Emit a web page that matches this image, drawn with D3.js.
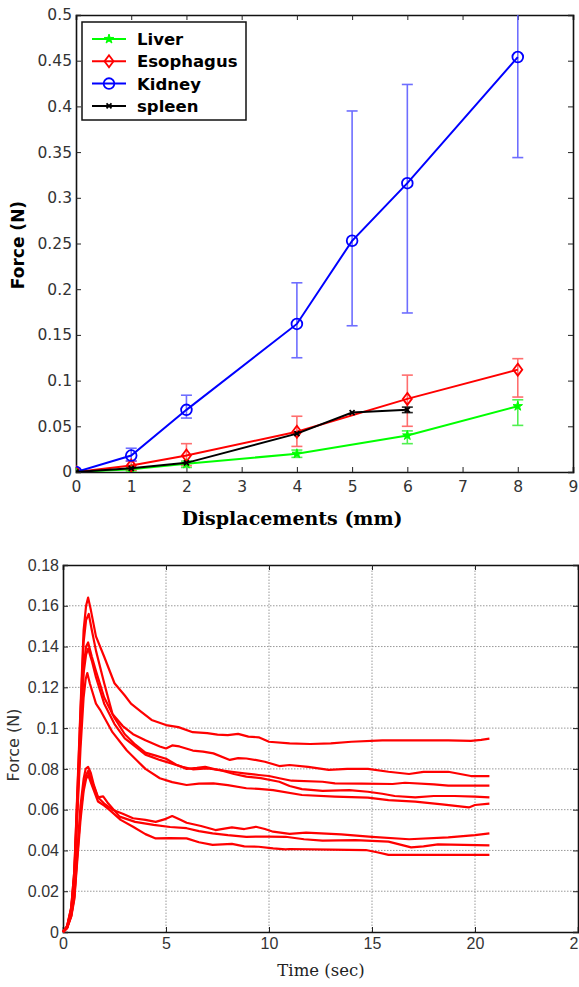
<!DOCTYPE html>
<html>
<head>
<meta charset="utf-8">
<script src="https://cdn.jsdelivr.net/npm/d3@7"></script>
<style>
  body { margin: 0; background: #fff; }
  svg { display: block; }
  .top .tick text { font-family: "DejaVu Sans", sans-serif; font-size: 15.5px; fill: #333; }
  .bot .tick text { font-family: "Liberation Sans", Arial, sans-serif; font-size: 16px; fill: #333; }
</style>
</head>
<body>
<svg id="myGraph" width="579" height="987"></svg>
<script>
// top chart: force vs displacement
var liverX = [0, 1, 2, 4, 6, 8];
var liverY = [0, 0.003, 0.009, 0.020, 0.040, 0.072];
var liverLow = [0, 0.001, 0.005, 0.016, 0.031, 0.051];
var liverHigh = [0, 0.005, 0.012, 0.024, 0.045, 0.079];

var esoX = [0, 1, 2, 4, 6, 8];
var esoY = [0, 0.007, 0.018, 0.044, 0.080, 0.112];
var esoLow = [0, 0.002, 0.007, 0.028, 0.050, 0.082];
var esoHigh = [0, 0.012, 0.031, 0.061, 0.106, 0.124];

var kidneyX = [0, 1, 2, 4, 5, 6, 8];
var kidneyY = [0, 0.018, 0.068, 0.162, 0.253, 0.316, 0.454];
var kidneyLow = [0, 0.012, 0.059, 0.125, 0.160, 0.174, 0.344];
var kidneyHigh = [0, 0.026, 0.084, 0.207, 0.395, 0.424, 0.565];

var spleenX = [0, 1, 2, 4, 5, 6];
var spleenY = [0, 0.004, 0.010, 0.042, 0.065, 0.068];
var spleenLow = [0, 0.004, 0.010, 0.042, 0.065, 0.065];
var spleenHigh = [0, 0.004, 0.010, 0.042, 0.065, 0.071];

var topXTicks = [0, 1, 2, 3, 4, 5, 6, 7, 8, 9];
var topYTicks = [0, 0.05, 0.1, 0.15, 0.2, 0.25, 0.3, 0.35, 0.4, 0.45, 0.5];

// bottom chart: relaxation curves [time (sec), force (N)]
var curveA = [[0,0],[0.2,0.003],[0.4,0.012],[0.55,0.03],[0.7,0.07],[0.85,0.11],[1.0,0.148],[1.12,0.16],[1.22,0.164],[1.35,0.158],[1.6,0.145],[2.0,0.135],[2.5,0.122],[3.0,0.116],[3.3,0.112],[3.8,0.108],[4.3,0.104],[5,0.1015],[5.6,0.1005],[6.3,0.098],[7.0,0.0975],[7.5,0.0968],[8,0.0966],[8.5,0.0972],[9,0.0958],[9.5,0.0955],[10,0.0933],[11,0.0925],[12,0.0922],[13,0.0925],[14,0.0933],[15.5,0.094],[17,0.094],[18.7,0.094],[19.8,0.0937],[20.3,0.0942],[20.7,0.0948]];
var curveB = [[0,0],[0.2,0.003],[0.4,0.012],[0.55,0.03],[0.7,0.068],[0.85,0.108],[1.0,0.142],[1.12,0.153],[1.25,0.156],[1.4,0.148],[1.6,0.138],[2.0,0.122],[2.4,0.107],[2.9,0.101],[3.4,0.097],[4.0,0.094],[4.7,0.091],[5.0,0.090],[5.3,0.0915],[5.65,0.091],[6.3,0.089],[6.8,0.0885],[7.3,0.0876],[8.1,0.0844],[8.5,0.0853],[8.9,0.0851],[9.4,0.0843],[9.8,0.0835],[10.5,0.0814],[11,0.0819],[11.9,0.081],[12.9,0.0795],[13.8,0.080],[14.8,0.080],[15.8,0.0786],[16.8,0.0775],[17.5,0.0785],[18.7,0.0786],[19.8,0.0765],[20.7,0.0765]];
var curveC = [[0,0],[0.2,0.0025],[0.4,0.011],[0.55,0.028],[0.7,0.064],[0.85,0.1],[1.0,0.13],[1.12,0.14],[1.22,0.142],[1.4,0.135],[1.6,0.128],[2.0,0.115],[2.5,0.105],[3.0,0.097],[3.5,0.092],[4.0,0.088],[4.5,0.0865],[5,0.085],[5.5,0.082],[6,0.080],[6.5,0.0805],[6.9,0.081],[7.5,0.0795],[8.2,0.0786],[8.8,0.0778],[9.5,0.077],[10,0.0765],[10.5,0.0754],[11.1,0.0742],[12.6,0.0737],[13.2,0.0729],[14.5,0.0728],[16,0.0726],[16.6,0.0732],[18,0.0724],[18.7,0.0718],[20.7,0.0718]];
var curveD = [[0,0],[0.2,0.0025],[0.4,0.011],[0.55,0.027],[0.7,0.062],[0.85,0.098],[1.0,0.127],[1.12,0.136],[1.22,0.139],[1.4,0.133],[1.6,0.125],[2.0,0.112],[2.5,0.102],[3.0,0.095],[3.5,0.091],[4.0,0.087],[4.7,0.0844],[5.3,0.0825],[5.8,0.081],[6.3,0.0798],[7.0,0.0802],[7.6,0.0795],[8.3,0.0775],[8.9,0.0762],[9.6,0.0755],[10.5,0.0737],[11,0.0716],[11.6,0.0701],[12.6,0.0692],[13.9,0.0696],[14.8,0.0688],[15.5,0.0678],[16.1,0.0667],[17.1,0.066],[18,0.0667],[19,0.0667],[20,0.0664],[20.7,0.066]];
var curveE = [[0,0],[0.2,0.002],[0.4,0.01],[0.55,0.025],[0.7,0.058],[0.85,0.09],[1.0,0.115],[1.1,0.124],[1.18,0.127],[1.3,0.122],[1.6,0.112],[1.8,0.109],[2.4,0.098],[3.1,0.089],[3.6,0.084],[4.0,0.080],[4.7,0.0754],[5.3,0.0735],[6.0,0.0721],[6.6,0.0728],[7.3,0.0729],[8.0,0.072],[8.9,0.0705],[9.5,0.0702],[10.2,0.0696],[11.6,0.0672],[13.2,0.0664],[14.8,0.0659],[15.8,0.0647],[17.1,0.0639],[18.4,0.0626],[19.7,0.0611],[20,0.0623],[20.7,0.063]];
var curveF = [[0,0],[0.2,0.002],[0.4,0.008],[0.55,0.018],[0.7,0.04],[0.85,0.062],[1.0,0.075],[1.1,0.08],[1.22,0.081],[1.35,0.078],[1.5,0.072],[1.7,0.066],[2.0,0.063],[2.4,0.060],[2.9,0.058],[3.4,0.0558],[4.0,0.055],[4.5,0.054],[5.0,0.0555],[5.3,0.0569],[5.7,0.055],[6.0,0.0536],[6.7,0.052],[7.4,0.050],[8.2,0.0513],[8.8,0.0505],[9.36,0.0516],[9.8,0.0505],[10.2,0.0492],[11,0.0481],[11.8,0.0487],[13.5,0.0479],[15,0.0467],[16.8,0.0455],[18.7,0.0464],[20,0.0475],[20.7,0.0484]];
var curveG = [[0,0],[0.2,0.002],[0.4,0.008],[0.55,0.017],[0.7,0.038],[0.85,0.058],[1.0,0.071],[1.12,0.077],[1.22,0.079],[1.4,0.074],[1.7,0.066],[1.95,0.0665],[2.2,0.063],[2.75,0.0566],[3.5,0.054],[4.4,0.0525],[5.2,0.0515],[6.0,0.0509],[6.6,0.0495],[7.26,0.0484],[8.0,0.0475],[8.9,0.0467],[10.0,0.0468],[10.8,0.0467],[11.7,0.0455],[12.6,0.0448],[14.2,0.0451],[15.8,0.0443],[16.9,0.0415],[17.5,0.042],[18.2,0.043],[20.7,0.0425]];
var curveH = [[0,0],[0.2,0.002],[0.4,0.0075],[0.55,0.016],[0.7,0.036],[0.85,0.055],[1.0,0.069],[1.12,0.075],[1.22,0.077],[1.4,0.072],[1.7,0.064],[2.0,0.062],[2.27,0.0598],[2.8,0.055],[3.4,0.0516],[4.0,0.048],[4.5,0.0459],[5.2,0.046],[6,0.0459],[6.6,0.044],[7.26,0.0427],[8.2,0.0432],[8.8,0.042],[9.5,0.0418],[10.2,0.041],[10.8,0.0405],[11,0.0407],[13,0.0404],[14.7,0.0402],[15.3,0.039],[15.8,0.0378],[20.7,0.0378]];

var botXTicks = [0, 5, 10, 15, 20, 25];
var botYTicks = [0, 0.02, 0.04, 0.06, 0.08, 0.1, 0.12, 0.14, 0.16, 0.18];

var svg = d3.select('#myGraph');

function zip(xs, ys, lo, hi) {
  return xs.map(function(x, i) { return { x: x, y: ys[i], lo: lo[i], hi: hi[i] }; });
}

var topSeries = [
  { name: 'Liver', color: '#00ff00', err: '#33ee33', marker: 'star', data: zip(liverX, liverY, liverLow, liverHigh) },
  { name: 'Esophagus', color: '#ff0000', err: '#ff5555', marker: 'diamond', data: zip(esoX, esoY, esoLow, esoHigh) },
  { name: 'Kidney', color: '#0000ff', err: '#5555ff', marker: 'circle', data: zip(kidneyX, kidneyY, kidneyLow, kidneyHigh) },
  { name: 'spleen', color: '#000000', err: '#000000', marker: 'times', data: zip(spleenX, spleenY, spleenLow, spleenHigh) }
];

// ---- top chart ----
var x1 = d3.scaleLinear().domain([0, 9]).range([76, 573]);
var y1 = d3.scaleLinear().domain([0, 0.5]).range([472, 15]);

svg.append('clipPath').attr('id', 'clipTop')
  .append('rect').attr('x', x1(0)).attr('y', y1(0.5)).attr('width', x1(9) - x1(0)).attr('height', y1(0) - y1(0.5));

function boxAxes(g, x, y, xt, yt, xpad, xfmt, yfmt) {
  g.append('g').attr('transform', 'translate(0,' + y.range()[0] + ')')
    .call(d3.axisBottom(x).tickValues(xt).tickSize(-5).tickPadding(xpad).tickFormat(xfmt));
  g.append('g').attr('transform', 'translate(0,' + y.range()[1] + ')')
    .call(d3.axisTop(x).tickValues(xt).tickSize(-5).tickFormat(''));
  g.append('g').attr('transform', 'translate(' + x.range()[0] + ',0)')
    .call(d3.axisLeft(y).tickValues(yt).tickSize(-5).tickPadding(4).tickFormat(yfmt));
  g.append('g').attr('transform', 'translate(' + x.range()[1] + ',0)')
    .call(d3.axisRight(y).tickValues(yt).tickSize(-5).tickFormat(''));
  g.selectAll('.domain').attr('stroke', '#111').attr('stroke-width', 1.6);
  g.selectAll('.tick line').attr('stroke', '#222').attr('stroke-width', 1);
}

function numFmt(d) { return d === 0 ? '0' : String(+d.toFixed(2)); }

var topG = svg.append('g').attr('class', 'top');
boxAxes(topG, x1, y1, topXTicks, topYTicks, 9, d3.format('d'), numFmt);

var plotTop = topG.append('g').attr('clip-path', 'url(#clipTop)');
var line1 = d3.line().x(function(d) { return x1(d.x); }).y(function(d) { return y1(d.y); });

function markerPath(type) {
  if (type === 'star') return d3.symbol().type(d3.symbolStar).size(28)();
  if (type === 'diamond') return 'M0,-6L4.5,0L0,6L-4.5,0Z';
  if (type === 'circle') return d3.symbol().type(d3.symbolCircle).size(90)();
  return d3.symbol().type(d3.symbolTimes).size(18)();
}

topSeries.forEach(function(s) {
  var g = plotTop.append('g');
  // error bars
  var eb = g.selectAll('.eb').data(s.data.filter(function(d) { return d.hi > d.lo; }))
    .enter().append('g').attr('stroke', s.err).attr('stroke-width', 1.6).attr('opacity', 0.85);
  eb.append('line').attr('x1', function(d) { return x1(d.x); }).attr('x2', function(d) { return x1(d.x); })
    .attr('y1', function(d) { return y1(d.lo); }).attr('y2', function(d) { return y1(d.hi); });
  eb.append('line').attr('x1', function(d) { return x1(d.x) - 5.5; }).attr('x2', function(d) { return x1(d.x) + 5.5; })
    .attr('y1', function(d) { return y1(d.lo); }).attr('y2', function(d) { return y1(d.lo); });
  eb.append('line').attr('x1', function(d) { return x1(d.x) - 5.5; }).attr('x2', function(d) { return x1(d.x) + 5.5; })
    .attr('y1', function(d) { return y1(d.hi); }).attr('y2', function(d) { return y1(d.hi); });
});

topSeries.forEach(function(s) {
  var g = plotTop.append('g');
  g.append('path').datum(s.data).attr('d', line1)
    .attr('fill', 'none').attr('stroke', s.color).attr('stroke-width', 2);
  g.selectAll('.mk').data(s.data).enter().append('path')
    .attr('transform', function(d) { return 'translate(' + x1(d.x) + ',' + y1(d.y) + ')'; })
    .attr('d', markerPath(s.marker))
    .attr('fill', s.marker === 'star' ? s.color : 'none')
    .attr('stroke', s.color).attr('stroke-width', s.marker === 'star' ? 1 : 1.8);
});

// legend
var leg = topG.append('g');
leg.append('rect').attr('x', 82).attr('y', 22).attr('width', 164).attr('height', 98)
  .attr('fill', '#fff').attr('stroke', '#111').attr('stroke-width', 1.5);
topSeries.forEach(function(s, i) {
  var yy = 39 + i * 22.3;
  leg.append('line').attr('x1', 92).attr('x2', 126).attr('y1', yy).attr('y2', yy)
    .attr('stroke', s.color).attr('stroke-width', 2);
  leg.append('path').attr('transform', 'translate(109,' + yy + ')').attr('d', markerPath(s.marker))
    .attr('fill', s.marker === 'star' ? s.color : 'none')
    .attr('stroke', s.color).attr('stroke-width', s.marker === 'star' ? 1 : 1.8);
  leg.append('text').attr('x', 137).attr('y', yy + 6).text(s.name)
    .attr('font-family', '"DejaVu Sans", sans-serif').attr('font-weight', 'bold')
    .attr('font-size', 16.5).attr('fill', '#000');
});

topG.append('text').attr('transform', 'translate(24,245) rotate(-90)').attr('text-anchor', 'middle')
  .attr('font-family', '"DejaVu Sans", sans-serif').attr('font-weight', 'bold').attr('font-size', 17)
  .text('Force (N)');
topG.append('text').attr('x', 292).attr('y', 525).attr('text-anchor', 'middle')
  .attr('font-family', '"DejaVu Serif", serif').attr('font-weight', 'bold').attr('font-size', 19)
  .text('Displacements (mm)');

// ---- bottom chart ----
var x2 = d3.scaleLinear().domain([0, 25]).range([63, 578]);
var y2 = d3.scaleLinear().domain([0, 0.18]).range([932, 565]);

var bot = svg.append('g').attr('class', 'bot');
// dotted grid
bot.append('g').selectAll('line').data(botXTicks.slice(1, -1)).enter().append('line')
  .attr('x1', function(d) { return x2(d); }).attr('x2', function(d) { return x2(d); })
  .attr('y1', y2(0)).attr('y2', y2(0.18))
  .attr('stroke', '#999').attr('stroke-width', 1).attr('stroke-dasharray', '1.5,1.5');
bot.append('g').selectAll('line').data(botYTicks.slice(1, -1)).enter().append('line')
  .attr('x1', x2(0)).attr('x2', x2(25))
  .attr('y1', function(d) { return y2(d); }).attr('y2', function(d) { return y2(d); })
  .attr('stroke', '#999').attr('stroke-width', 1).attr('stroke-dasharray', '1.5,1.5');

boxAxes(bot, x2, y2, botXTicks, botYTicks, 6, d3.format('d'), numFmt);

var line2 = d3.line().x(function(d) { return x2(d[0]); }).y(function(d) { return y2(d[1]); });
var curves = [curveA, curveB, curveC, curveD, curveE, curveF, curveG, curveH];
bot.append('g').selectAll('path').data(curves).enter().append('path')
  .attr('d', line2).attr('fill', 'none').attr('stroke', '#ff0000').attr('stroke-width', 2.2)
  .attr('stroke-linejoin', 'round');

bot.append('text').attr('transform', 'translate(19,745) rotate(-90)').attr('text-anchor', 'middle')
  .attr('font-family', '"DejaVu Sans", sans-serif').attr('font-size', 16).attr('fill', '#333')
  .text('Force (N)');
bot.append('text').attr('x', 321).attr('y', 976).attr('text-anchor', 'middle')
  .attr('font-family', '"DejaVu Serif", serif').attr('font-size', 16.5).attr('fill', '#222')
  .text('Time (sec)');
</script>
</body>
</html>
